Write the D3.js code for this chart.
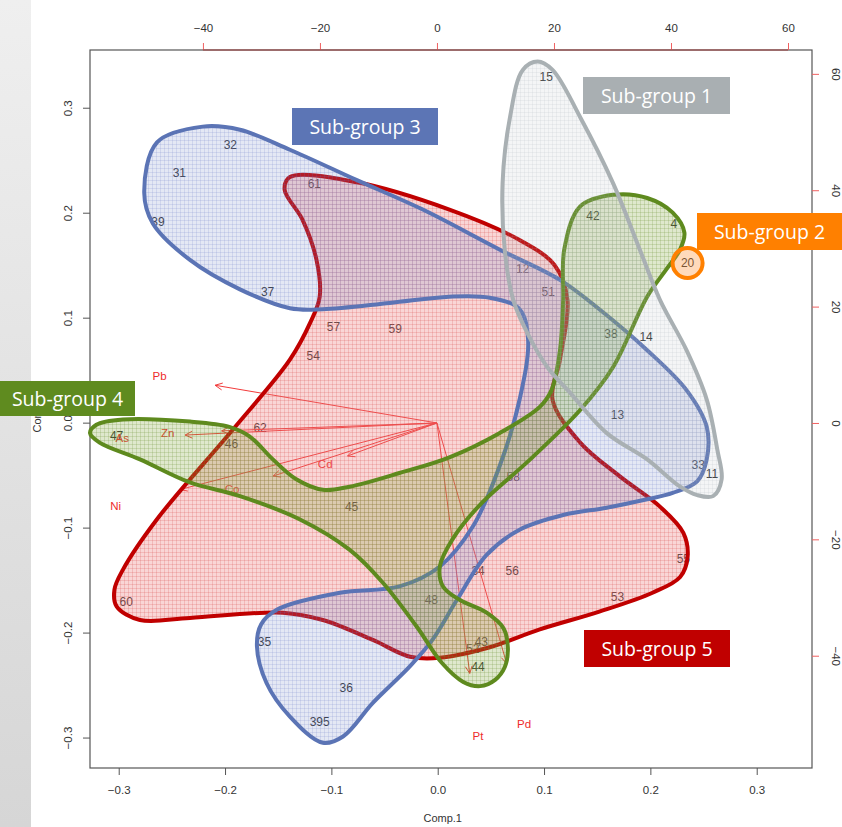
<!DOCTYPE html>
<html>
<head>
<meta charset="utf-8">
<script src="https://cdn.jsdelivr.net/npm/d3@7"></script>
<style>
  body { margin: 0; background: #fff; }
  svg { display: block; }
</style>
</head>
<body>
<div id="chart"></div>
<script>
// axis ticks
const xTicks = [-0.3, -0.2, -0.1, 0, 0.1, 0.2, 0.3];
const yTicks = [-0.3, -0.2, -0.1, 0, 0.1, 0.2, 0.3];
const topTicks = [-40, -20, 0, 20, 40, 60];
const rightTicks = [-40, -20, 0, 20, 40, 60];

// sample scores (Comp.1, Comp.2)
const sampleIds = ["15","42","4","20","12","51","38","14","13","33","11","58","55","56","53","34","48","43","52","44","45","61","32","31","39","37","57","59","54","62","46","47","60","35","36","395"];
const comp1 = [0.102,0.146,0.222,0.235,0.080,0.104,0.163,0.196,0.169,0.245,0.258,0.071,0.231,0.070,0.169,0.038,-0.006,0.041,0.033,0.038,-0.081,-0.116,-0.195,-0.243,-0.263,-0.160,-0.098,-0.040,-0.117,-0.167,-0.194,-0.302,-0.293,-0.163,-0.086,-0.111];
const comp2 = [0.329,0.197,0.189,0.152,0.147,0.125,0.085,0.082,0.007,-0.040,-0.049,-0.052,-0.130,-0.141,-0.166,-0.141,-0.169,-0.209,-0.215,-0.233,-0.080,0.228,0.265,0.238,0.191,0.125,0.091,0.089,0.064,-0.005,-0.020,-0.013,-0.171,-0.209,-0.253,-0.285];

// variable loadings (top / right scale)
const variables = ["Pb","Zn","As","Cd","Co","Ni","Pt","Pd"];
const load1 = [-47.4,-46.0,-53.8,-19.1,-35.0,-54.9,7.0,14.9];
const load2 = [8.1,-1.7,-2.6,-7.1,-11.4,-14.3,-53.8,-51.7];

// hand drawn sub-group outlines (Comp.1, Comp.2)
const group5 = [[-0.139,0.234],[-0.076,0.229],[0.011,0.203],[0.077,0.174],[0.110,0.150],[0.122,0.117],[0.115,0.060],[0.108,0.022],[0.134,-0.019],[0.171,-0.051],[0.209,-0.080],[0.231,-0.105],[0.235,-0.128],[0.228,-0.147],[0.202,-0.162],[0.152,-0.180],[0.096,-0.197],[0.049,-0.214],[0.002,-0.224],[-0.026,-0.223],[-0.061,-0.207],[-0.108,-0.188],[-0.146,-0.181],[-0.233,-0.186],[-0.280,-0.188],[-0.302,-0.175],[-0.304,-0.159],[-0.296,-0.140],[-0.264,-0.092],[-0.193,-0.007],[-0.139,0.060],[-0.120,0.095],[-0.111,0.120],[-0.114,0.155],[-0.127,0.193],[-0.144,0.222]];
const group3 = [[-0.221,0.282],[-0.186,0.279],[-0.139,0.260],[-0.076,0.231],[-0.014,0.203],[0.058,0.165],[0.115,0.136],[0.152,0.108],[0.197,0.069],[0.234,0.031],[0.253,-0.004],[0.253,-0.035],[0.244,-0.056],[0.221,-0.067],[0.197,-0.073],[0.159,-0.081],[0.118,-0.088],[0.077,-0.102],[0.046,-0.126],[0.018,-0.169],[-0.005,-0.207],[-0.026,-0.232],[-0.061,-0.267],[-0.089,-0.299],[-0.108,-0.305],[-0.139,-0.280],[-0.161,-0.248],[-0.170,-0.213],[-0.166,-0.192],[-0.151,-0.178],[-0.092,-0.162],[-0.036,-0.156],[0.002,-0.137],[0.033,-0.099],[0.058,-0.042],[0.077,0.022],[0.085,0.079],[0.077,0.108],[0.049,0.119],[0.011,0.120],[-0.045,0.114],[-0.108,0.108],[-0.139,0.109],[-0.186,0.127],[-0.233,0.155],[-0.268,0.190],[-0.276,0.219],[-0.264,0.267]];
const group4 = [[0.119,0.165],[0.134,0.206],[0.165,0.217],[0.197,0.214],[0.221,0.200],[0.232,0.181],[0.228,0.165],[0.215,0.146],[0.197,0.120],[0.165,0.053],[0.134,0.012],[0.087,-0.035],[0.040,-0.078],[0.014,-0.111],[0.002,-0.137],[0.005,-0.156],[0.021,-0.169],[0.046,-0.181],[0.062,-0.196],[0.066,-0.215],[0.063,-0.233],[0.054,-0.245],[0.040,-0.251],[0.024,-0.247],[0.004,-0.229],[-0.020,-0.194],[-0.052,-0.152],[-0.083,-0.121],[-0.130,-0.092],[-0.186,-0.070],[-0.233,-0.057],[-0.280,-0.035],[-0.318,-0.019],[-0.327,-0.010],[-0.321,-0.002],[-0.296,0.003],[-0.233,0.001],[-0.196,-0.004],[-0.177,-0.013],[-0.155,-0.035],[-0.133,-0.054],[-0.108,-0.064],[-0.083,-0.061],[-0.036,-0.048],[0.011,-0.033],[0.058,-0.010],[0.096,0.015],[0.107,0.031],[0.115,0.069],[0.118,0.117]];
const group1 = [[0.094,0.344],[0.108,0.336],[0.134,0.291],[0.165,0.228],[0.190,0.165],[0.209,0.117],[0.234,0.069],[0.253,0.022],[0.263,-0.026],[0.267,-0.054],[0.259,-0.070],[0.244,-0.069],[0.228,-0.061],[0.197,-0.035],[0.159,-0.010],[0.124,0.029],[0.103,0.053],[0.084,0.086],[0.071,0.117],[0.063,0.165],[0.061,0.228],[0.068,0.291],[0.080,0.336]];
const group2Members = ["20"];

const groupNames = ["Sub-group 1","Sub-group 2","Sub-group 3","Sub-group 4","Sub-group 5"];

// layout
const W = 842, H = 827;
const box = {left: 90, right: 812, top: 50, bottom: 768};

const svg = d3.select("#chart").append("svg")
  .attr("width", W).attr("height", H)
  .style("font-family", "'Liberation Sans', Arial, sans-serif");

const defs = svg.append("defs");

// left grey strip
const grad = defs.append("linearGradient").attr("id", "strip")
  .attr("x1", 0).attr("y1", 0).attr("x2", 0).attr("y2", 1);
grad.append("stop").attr("offset", "0%").attr("stop-color", "#efefef");
grad.append("stop").attr("offset", "100%").attr("stop-color", "#d6d6d6");
svg.append("rect").attr("x", 0).attr("y", 0).attr("width", 31).attr("height", H)
  .attr("fill", "url(#strip)");

// textured fills
function makePattern(id, base, line) {
  const p = defs.append("pattern").attr("id", id)
    .attr("width", 4).attr("height", 4).attr("patternUnits", "userSpaceOnUse");
  p.append("rect").attr("width", 4).attr("height", 4).attr("fill", base);
  p.append("path").attr("d", "M0 0.5H4M0.5 0V4")
    .attr("stroke", line).attr("stroke-width", 1).attr("fill", "none");
}
makePattern("pRed", "rgba(236,120,120,0.30)", "rgba(220,80,80,0.22)");
makePattern("pBlue", "rgba(120,140,200,0.20)", "rgba(100,120,190,0.16)");
makePattern("pGreen", "rgba(130,165,60,0.26)", "rgba(100,140,40,0.20)");
makePattern("pGrey", "rgba(180,185,190,0.14)", "rgba(160,165,170,0.12)");

// scales
const x = d3.scaleLinear().domain([-0.327, 0.352]).range([box.left, box.right]);
const y = d3.scaleLinear().domain([-0.329, 0.355]).range([box.bottom, box.top]);
const xv = d3.scaleLinear().domain([-59.3, 64.1]).range([box.left, box.right]);
const yv = d3.scaleLinear().domain([-59.3, 64.1]).range([box.bottom, box.top]);

// box
svg.append("rect").attr("x", box.left).attr("y", box.top)
  .attr("width", box.right - box.left).attr("height", box.bottom - box.top)
  .attr("fill", "none").attr("stroke", "#555").attr("stroke-width", 1.2);

// bottom axis
const gx = svg.append("g").attr("transform", `translate(0,${box.bottom})`)
  .call(d3.axisBottom(x).tickValues(xTicks).tickFormat(d3.format(".1f")).tickSize(7).tickPadding(11).tickSizeOuter(0));
// left axis
const gy = svg.append("g").attr("transform", `translate(${box.left},0)`)
  .call(d3.axisLeft(y).tickValues(yTicks).tickFormat(d3.format(".1f")).tickSize(7).tickSizeOuter(0));
gy.selectAll("text").attr("transform", "rotate(-90)").attr("x", 0).attr("y", -22)
  .attr("dy", "0.35em").style("text-anchor", "middle");
// top axis
const gt = svg.append("g").attr("transform", `translate(0,${box.top})`)
  .call(d3.axisTop(xv).tickValues(topTicks).tickSize(7).tickPadding(11).tickSizeOuter(0));
// right axis
const gr = svg.append("g").attr("transform", `translate(${box.right},0)`)
  .call(d3.axisRight(yv).tickValues(rightTicks).tickSize(7).tickSizeOuter(0));
gr.selectAll("text").attr("transform", "rotate(90)").attr("x", 0).attr("y", -24)
  .attr("dy", "0.35em").style("text-anchor", "middle");

[gx, gy, gt, gr].forEach(g => {
  g.select(".domain").remove();
  g.selectAll("text").attr("fill", "#333").style("font-size", "11.5px")
    .style("font-family", "'Liberation Sans', Arial, sans-serif");
});
gx.selectAll("line").attr("stroke", "#555");
gy.selectAll("line").attr("stroke", "#555");
gt.selectAll("line").attr("stroke", "#f06060");
gr.selectAll("line").attr("stroke", "#f06060");
svg.append("line").attr("x1", xv(-40)).attr("x2", xv(60)).attr("y1", box.top).attr("y2", box.top)
  .attr("stroke", "#a04040").attr("stroke-width", 1);

// axis titles
svg.append("text").attr("x", x(0) + 5).attr("y", 822).attr("text-anchor", "middle")
  .attr("fill", "#333").style("font-size", "11px").text("Comp.1");
svg.append("text").attr("transform", `translate(41,${y(0.009)}) rotate(-90)`)
  .attr("text-anchor", "middle").attr("fill", "#333").style("font-size", "11px").text("Comp.2");

// sample labels
svg.append("g").selectAll("text").data(sampleIds).join("text")
  .attr("x", (d, i) => x(comp1[i])).attr("y", (d, i) => y(comp2[i]))
  .attr("dy", "0.35em").attr("text-anchor", "middle")
  .attr("fill", "#333").style("font-size", "12px").text(d => d);

// variable arrows (R biplot draws arrows at 0.8 of label position)
const ox = xv(0), oy = yv(0);
const arrows = svg.append("g").attr("stroke", "#f23a3a").attr("stroke-width", 1).attr("fill", "none");
variables.forEach((v, i) => {
  const tx = xv(load1[i] * 0.8), ty = yv(load2[i] * 0.8);
  arrows.append("line").attr("x1", ox).attr("y1", oy).attr("x2", tx).attr("y2", ty);
  const a = Math.atan2(ty - oy, tx - ox), L = 8, s = Math.PI / 7;
  arrows.append("path").attr("d",
    `M${tx - L * Math.cos(a - s)},${ty - L * Math.sin(a - s)}L${tx},${ty}L${tx - L * Math.cos(a + s)},${ty - L * Math.sin(a + s)}`);
});
svg.append("g").selectAll("text").data(variables).join("text")
  .attr("x", (d, i) => xv(load1[i])).attr("y", (d, i) => yv(load2[i]))
  .attr("dy", "0.35em").attr("text-anchor", "middle")
  .attr("fill", "#ee2c2c").style("font-size", "11.5px").text(d => d);

// sub-group outlines
const blob = d3.line().x(d => x(d[0])).y(d => y(d[1])).curve(d3.curveCatmullRomClosed.alpha(0.5));
const blobs = [
  {pts: group5, fill: "url(#pRed)", stroke: "#c00000"},
  {pts: group3, fill: "url(#pBlue)", stroke: "#5b74b5"},
  {pts: group4, fill: "url(#pGreen)", stroke: "#5e8a1e"},
  {pts: group1, fill: "url(#pGrey)", stroke: "#a9b0b3"}
];
blobs.forEach(b => {
  svg.append("path").attr("d", blob(b.pts)).attr("fill", b.fill)
    .attr("stroke", b.stroke).attr("stroke-width", 4).attr("stroke-linejoin", "round");
});
group2Members.forEach(id => {
  const i = sampleIds.indexOf(id);
  svg.append("circle").attr("cx", x(comp1[i])).attr("cy", y(comp2[i])).attr("r", 15)
    .attr("fill", "rgba(255,150,60,0.35)").attr("stroke", "#ff8000").attr("stroke-width", 4);
});

// sub-group tags
const tags = [
  {x: 583, y: 77, w: 147, h: 37, c: "#a9afb2"},
  {x: 697, y: 213, w: 145, h: 37, c: "#ff8000"},
  {x: 292, y: 108, w: 146, h: 37, c: "#5c75b5"},
  {x: 0, y: 381, w: 135, h: 35, c: "#5f8b1f"},
  {x: 584, y: 630, w: 146, h: 37, c: "#c00000"}
];
tags.forEach((t, i) => {
  svg.append("rect").attr("x", t.x).attr("y", t.y).attr("width", t.w).attr("height", t.h).attr("fill", t.c);
  svg.append("text").attr("x", t.x + t.w / 2).attr("y", t.y + t.h / 2).attr("dy", "0.36em")
    .attr("text-anchor", "middle").attr("fill", "#fff")
    .style("font-family", "'Open Sans', 'DejaVu Sans', sans-serif").style("font-size", "19.5px")
    .text(groupNames[i]);
});
</script>
</body>
</html>
